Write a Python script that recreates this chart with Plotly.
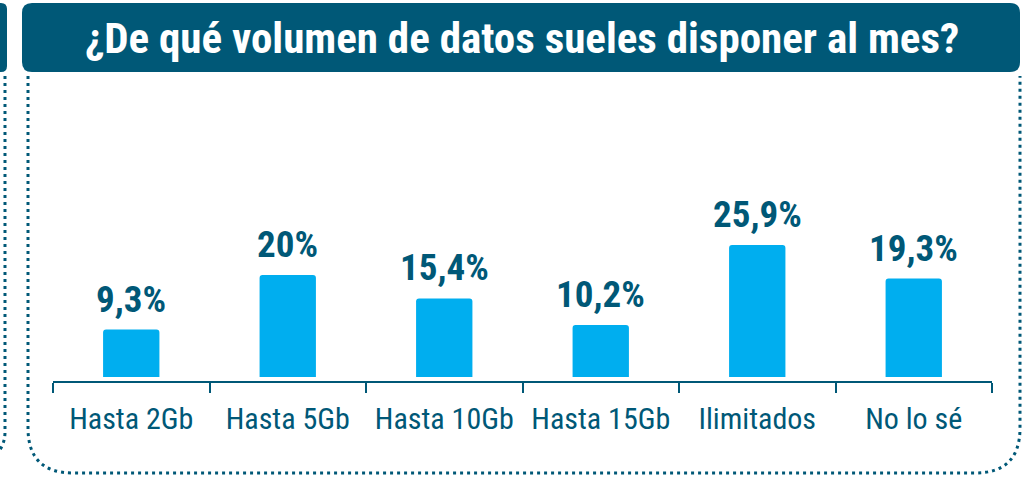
import plotly.graph_objects as go

categories = ["Hasta 2Gb", "Hasta 5Gb", "Hasta 10Gb", "Hasta 15Gb", "Ilimitados", "No lo sé"]
values = [9.3, 20.0, 15.4, 10.2, 25.9, 19.3]
value_labels = ["9,3%", "20%", "15,4%", "10,2%", "25,9%", "19,3%"]
title_text = "¿De qué volumen de datos sueles disponer al mes?"

W, H = 1028, 478
DARK = "#005877"
BAR = "#00AEEF"
FONT = "Roboto Condensed, Liberation Sans Narrow, DejaVu Sans Condensed, sans-serif"


def px(x, y):
    return f"{x / W:.5f},{1 - y / H:.5f}"


def rrect(x0, y0, x1, y1, r):
    return (f"M {px(x0 + r, y0)} L {px(x1 - r, y0)} Q {px(x1, y0)} {px(x1, y0 + r)} "
            f"L {px(x1, y1 - r)} Q {px(x1, y1)} {px(x1 - r, y1)} "
            f"L {px(x0 + r, y1)} Q {px(x0, y1)} {px(x0, y1 - r)} "
            f"L {px(x0, y0 + r)} Q {px(x0, y0)} {px(x0 + r, y0)} Z")


fig = go.Figure()
fig.add_trace(go.Bar(
    x=categories, y=values, marker=dict(color=BAR, line=dict(width=0)),
    width=0.36, hoverinfo="skip",
))

for c, v, t in zip(categories, values, value_labels):
    fig.add_annotation(x=c, y=v, xref="x", yref="y", text=f"<b>{t}</b>",
                       showarrow=False, yanchor="bottom", yshift=7,
                       font=dict(family=FONT, size=37, color=DARK))

shapes = [
    dict(type="path", xref="paper", yref="paper", path=rrect(22, 3, 1020, 72, 10),
         fillcolor=DARK, line=dict(width=0), layer="below"),
    dict(type="path", xref="paper", yref="paper", path=rrect(-20, 3, 7, 72, 6),
         fillcolor=DARK, line=dict(width=0), layer="below"),
    dict(type="path", xref="paper", yref="paper",
         path=f"M {px(28, 76)} L {px(28, 428)} Q {px(28, 473)} {px(73, 473)} "
              f"L {px(975, 473)} Q {px(1020, 473)} {px(1020, 428)} L {px(1020, 76)}",
         line=dict(color=DARK, width=3, dash="3px,4px"), layer="below"),
    dict(type="path", xref="paper", yref="paper",
         path=f"M {px(5, 76)} L {px(5, 432)} Q {px(5, 448)} {px(-8, 458)}",
         line=dict(color=DARK, width=3, dash="3px,4px"), layer="below"),
]

fig.add_annotation(xref="paper", yref="paper", x=522 / W, y=1 - 38 / H,
                   text=f"<b>{title_text}</b>", showarrow=False,
                   xanchor="center", yanchor="middle",
                   font=dict(family=FONT, size=43, color="white"))

y_bottom_px, y_top_px = 381, 200
scale = 5.1
ymin = -4 / scale
ymax = ymin + (y_bottom_px - y_top_px) / scale

fig.update_layout(
    width=W, height=H, autosize=False,
    margin=dict(l=0, r=0, t=0, b=0),
    paper_bgcolor="white", plot_bgcolor="white",
    showlegend=False, shapes=shapes, barcornerradius=3,
    xaxis=dict(domain=[53 / W, 992 / W], showline=True, linecolor=DARK, linewidth=2,
               ticks="outside", tickson="boundaries", ticklen=10, tickwidth=2,
               tickcolor=DARK, showgrid=False, zeroline=False, tickangle=0,
               ticklabelstandoff=10,
               tickfont=dict(family=FONT, size=30, color=DARK)),
    yaxis=dict(domain=[(H - y_bottom_px) / H, (H - y_top_px) / H],
               range=[ymin, ymax], visible=False, showgrid=False, zeroline=False),
)

fig.write_html("out.html", config={"displayModeBar": False},
               post_script="document.body.style.margin='0px';")
